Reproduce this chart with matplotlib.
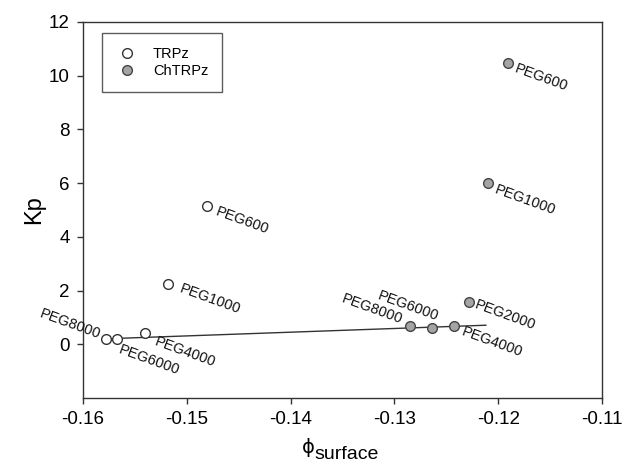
import matplotlib
matplotlib.use("Agg")
import matplotlib.pyplot as plt

plt.rcParams['font.family'] = ['Liberation Sans', 'DejaVu Sans']

# TRPz (open circles)
trpz_labels = ["PEG8000", "PEG6000", "PEG4000", "PEG1000", "PEG600"]
trpz_x = [-0.1578, -0.1567, -0.1540, -0.1518, -0.1481]
trpz_y = [0.19, 0.19, 0.41, 2.23, 5.13]

# ChTRPz (grey circles)
ch_labels = ["PEG8000", "PEG6000", "PEG4000", "PEG2000", "PEG1000", "PEG600"]
ch_x = [-0.1285, -0.1264, -0.1243, -0.1228, -0.1210, -0.1191]
ch_y = [0.67, 0.59, 0.67, 1.56, 5.99, 10.48]

# regression line endpoints
line_x = [-0.1567, -0.1212]
line_y = [0.22, 0.71]

xticks = [-0.16, -0.15, -0.14, -0.13, -0.12, -0.11]
yticks = [0, 2, 4, 6, 8, 10, 12]

fig = plt.figure(figsize=(6.24, 4.65), dpi=100)
ax = fig.add_axes([0.133, 0.144, 0.832, 0.809])

ax.plot(line_x, line_y, color='#333333', lw=1.0, zorder=2)
ax.plot(trpz_x, trpz_y, 'o', ms=7, mfc='white', mec='#333333', mew=1.0,
        ls='none', label='TRPz', zorder=3)
ax.plot(ch_x, ch_y, 'o', ms=7, mfc='#a4a4a4', mec='#444444', mew=1.0,
        ls='none', label='ChTRPz', zorder=3)

px = 0.72
trpz_off = [(-6, 4, 'right'), (2, -10, 'left'), (10, -8, 'left'),
            (12, -4, 'left'), (10, -5, 'left')]
ch_off = [(-8, 6, 'right'), (6, 11, 'right'), (8, -5, 'left'),
          (6, -2, 'left'), (7, -6, 'left'), (7, -6, 'left')]

for lab, x, y, (dx, dy, ha) in zip(trpz_labels, trpz_x, trpz_y, trpz_off):
    ax.annotate(lab, (x, y), xytext=(dx * px, dy * px), textcoords='offset points',
                ha=ha, va='center', rotation=-20, rotation_mode='anchor',
                fontsize=10.5, color='#111111')
for lab, x, y, (dx, dy, ha) in zip(ch_labels, ch_x, ch_y, ch_off):
    ax.annotate(lab, (x, y), xytext=(dx * px, dy * px), textcoords='offset points',
                ha=ha, va='center', rotation=-20, rotation_mode='anchor',
                fontsize=10.5, color='#111111')

ax.set_xlim(-0.16, -0.11)
ax.set_ylim(-2, 12)
ax.set_xticks(xticks)
ax.set_xticklabels([f"{t:.2f}" for t in xticks])
ax.set_yticks(yticks)
ax.tick_params(direction='out', length=4.5, width=1, labelsize=13.5, top=False, right=False,
               colors='#333333', labelcolor='black', pad=5)
for s in ax.spines.values():
    s.set_color('#333333')
    s.set_linewidth(1.0)

ax.set_ylabel('Kp', fontsize=17)
ax.yaxis.set_label_coords(-0.073, 0.5)

# x-axis label: phi with "surface" as subscript
fig.text(302 / 624, 1 - 453 / 465, '\u03d5', family='DejaVu Sans', fontsize=14,
         ha='left', va='baseline')
fig.text(314 / 624, 1 - 459 / 465, 'surface', fontsize=14, ha='left', va='baseline')

leg = ax.legend(loc='upper left', bbox_to_anchor=(0.0365, 0.971), fontsize=10.5,
                frameon=True, fancybox=False, edgecolor='#333333',
                borderpad=0.95, handletextpad=0.95, labelspacing=0.25, handlelength=1.6,
                borderaxespad=0)
leg.get_frame().set_linewidth(1.0)

fig.savefig('out.png', dpi=100)
